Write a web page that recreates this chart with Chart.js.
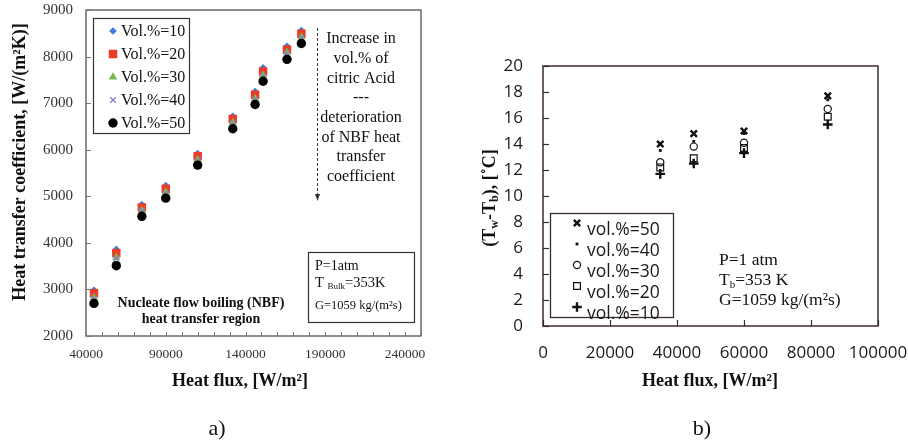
<!DOCTYPE html>
<html><head><meta charset="utf-8">
<script src="https://cdn.jsdelivr.net/npm/chart.js@4.4.1/dist/chart.umd.min.js"></script>
<style>
html,body{margin:0;padding:0;background:#fff;width:908px;height:444px;overflow:hidden}
#wa{position:absolute;left:0;top:0;width:454px;height:444px}
#wb{position:absolute;left:454px;top:0;width:454px;height:444px}
</style>
</head><body>
<div id="wa"><canvas id="ca" width="454" height="444"></canvas></div>
<div id="wb"><canvas id="cb" width="454" height="444"></canvas></div>
<script>
// ---------- DATA: chart a) ----------
const fluxA = [45000, 59000, 75000, 90000, 110000, 132000, 146000, 151000, 166000, 175000];
const hVol10 = [2980, 3860, 4820, 5230, 5920, 6720, 7250, 7760, 8220, 8560];
const hVol20 = [2920, 3780, 4760, 5160, 5860, 6660, 7180, 7680, 8150, 8490];
const hVol30 = [2830, 3690, 4700, 5090, 5790, 6590, 7100, 7600, 8090, 8420];
const hVol40 = [2800, 3660, 4680, 5060, 5760, 6560, 7070, 7570, 8060, 8390];
const hVol50 = [2700, 3510, 4570, 4960, 5670, 6450, 6970, 7470, 7940, 8280];
const labelsA = ['Vol.%=10', 'Vol.%=20', 'Vol.%=30', 'Vol.%=40', 'Vol.%=50'];
const xTicksA = [40000, 90000, 140000, 190000, 240000];

// ---------- DATA: chart b) ----------
const fluxB = [35000, 45000, 60000, 85000];
const dtVol50 = [14.0, 14.8, 15.0, 17.7];
const dtVol40 = [13.5, 14.2, 14.8, 17.4];
const dtVol30 = [12.6, 13.8, 14.1, 16.7];
const dtVol20 = [12.2, 12.9, 13.7, 16.1];
const dtVol10 = [11.7, 12.5, 13.3, 15.5];
const labelsB = ['vol.%=50', 'vol.%=40', 'vol.%=30', 'vol.%=20', 'vol.%=10'];

const SERIF = '"Liberation Serif", "Times New Roman", serif';
const SANS = '"Open Sans", Lato, sans-serif';

function pts(xs, ys) { return xs.map((x, i) => ({x: x, y: ys[i]})); }

function txt(ctx, s, x, y, font, align, color) {
  ctx.save();
  ctx.font = font; ctx.textAlign = align || 'left'; ctx.textBaseline = 'middle';
  ctx.fillStyle = color || '#000';
  ctx.fillText(s, x, y);
  ctx.restore();
}
// parts: [[text, isSub], ...]
function rich(ctx, parts, x, y, size, weight, family, align, color, rot) {
  ctx.save();
  ctx.translate(x, y);
  if (rot) ctx.rotate(rot);
  ctx.fillStyle = color || '#000';
  ctx.textBaseline = 'middle';
  ctx.textAlign = 'left';
  const fN = weight + ' ' + size + 'px ' + family;
  const fS = weight + ' ' + Math.round(size * 0.65) + 'px ' + family;
  let w = 0;
  parts.forEach(p => { ctx.font = p[1] ? fS : fN; w += ctx.measureText(p[0]).width; });
  let cx = align === 'center' ? -w / 2 : (align === 'right' ? -w : 0);
  parts.forEach(p => {
    ctx.font = p[1] ? fS : fN;
    ctx.fillText(p[0], cx, p[1] ? size * 0.28 : 0);
    cx += ctx.measureText(p[0]).width;
  });
  ctx.restore();
}
function line(ctx, x1, y1, x2, y2) { ctx.beginPath(); ctx.moveTo(x1, y1); ctx.lineTo(x2, y2); ctx.stroke(); }
function marker(ctx, ds, x, y) {
  ctx.save();
  ctx.fillStyle = ds.backgroundColor; ctx.strokeStyle = ds.borderColor; ctx.lineWidth = ds.borderWidth;
  Chart.helpers.drawPoint(ctx, {pointStyle: ds.pointStyle, radius: ds.pointRadius, rotation: 0, borderWidth: ds.borderWidth}, x, y);
  ctx.restore();
}

// ---------- Chart a) ----------
const dsA = [
  {label: labelsA[4], data: pts(fluxA, hVol50), pointStyle: 'circle', pointRadius: 4.7, backgroundColor: '#000', borderColor: '#000', borderWidth: 0},
  {label: labelsA[3], data: pts(fluxA, hVol40), pointStyle: 'crossRot', pointRadius: 4, backgroundColor: '#8f7bd0', borderColor: '#8f7bd0', borderWidth: 1.4},
  {label: labelsA[2], data: pts(fluxA, hVol30), pointStyle: 'triangle', pointRadius: 4.8, backgroundColor: '#7ab648', borderColor: '#7ab648', borderWidth: 0},
  {label: labelsA[1], data: pts(fluxA, hVol20), pointStyle: 'rect', pointRadius: 6, backgroundColor: '#ee3b2a', borderColor: '#ee3b2a', borderWidth: 0},
  {label: labelsA[0], data: pts(fluxA, hVol10), pointStyle: 'rectRot', pointRadius: 3.8, backgroundColor: '#3b7dd8', borderColor: '#3b7dd8', borderWidth: 0}
];

const decoA = {
  id: 'decoA',
  afterDraw(chart) {
    const {ctx, chartArea: a, scales: {x, y}} = chart;
    ctx.save();
    ctx.strokeStyle = '#444'; ctx.lineWidth = 1.2;
    ctx.strokeRect(a.left, a.top, a.right - a.left, a.bottom - a.top);
    ctx.strokeStyle = '#777'; ctx.lineWidth = 1;
    x.ticks.forEach(t => { const px = Math.round(x.getPixelForValue(t.value)) + 0.5; line(ctx, px, a.bottom, px, a.bottom - 4); });
    y.ticks.forEach(t => { const py = Math.round(y.getPixelForValue(t.value)) + 0.5; line(ctx, a.left, py, a.left + 5, py); });
    // legend
    ctx.strokeStyle = '#333'; ctx.lineWidth = 1.2;
    ctx.strokeRect(93.5, 18.5, 96, 115);
    const order = [4, 3, 2, 1, 0];
    order.forEach((di, i) => {
      const ds = chart.data.datasets[di];
      const yy = 31 + i * 23;
      marker(ctx, ds, 113, yy);
      txt(ctx, ds.label, 121, yy + 1, '16px ' + SERIF, 'left', '#111');
    });
    // annotation text
    const note = ['Increase in', 'vol.% of', 'citric Acid', '---', 'deterioration', 'of NBF heat', 'transfer', 'coefficient'];
    note.forEach((s, i) => txt(ctx, s, 361, 39 + i * 19.7, '16px ' + SERIF, 'center', '#111'));
    // dashed arrow
    ctx.strokeStyle = '#333'; ctx.lineWidth = 1; ctx.setLineDash([3, 2]);
    line(ctx, 317.5, 28, 317.5, 195);
    ctx.setLineDash([]);
    ctx.fillStyle = '#333';
    ctx.beginPath(); ctx.moveTo(317.5, 201); ctx.lineTo(315, 194); ctx.lineTo(320, 194); ctx.closePath(); ctx.fill();
    // conditions box
    ctx.strokeStyle = '#333'; ctx.lineWidth = 1.2;
    ctx.strokeRect(308.5, 252.5, 106, 70);
    txt(ctx, 'P=1atm', 315, 266, '14px ' + SERIF, 'left', '#111');
    rich(ctx, [['T ', false], ['Bulk', true], ['=353K', false]], 315, 283, 14.5, 'normal', SERIF, 'left', '#111');
    txt(ctx, 'G=1059 kg/(m\u00B2s)', 315, 306, '12.5px ' + SERIF, 'left', '#111');
    // region text
    txt(ctx, 'Nucleate flow boiling (NBF)', 201, 303, 'bold 14px ' + SERIF, 'center', '#111');
    txt(ctx, 'heat transfer region', 201, 319, 'bold 14px ' + SERIF, 'center', '#111');
    // axis titles
    txt(ctx, 'Heat flux, [W/m\u00B2]', 240, 381, 'bold 18px ' + SERIF, 'center', '#111');
    rich(ctx, [['Heat transfer coefficient, [W/(m\u00B2K)]', false]], 20, 162, 18, 'bold', SERIF, 'center', '#111', -Math.PI / 2);
    txt(ctx, 'a)', 217, 429, '22px ' + SERIF, 'center', '#111');
    ctx.restore();
  }
};

new Chart(document.getElementById('ca'), {
  type: 'scatter',
  data: {datasets: dsA},
  options: {
    responsive: false, animation: false, devicePixelRatio: 1,
    layout: {padding: {left: 0, right: 33, top: 10, bottom: 0}},
    plugins: {legend: {display: false}, tooltip: {enabled: false}},
    scales: {
      x: {
        type: 'linear', min: 40000, max: 250000,
        grid: {display: false, drawTicks: false}, border: {display: false},
        ticks: {stepSize: 10000, autoSkip: false, maxRotation: 0, padding: 10, color: '#333',
          font: {family: SERIF, size: 13.5},
          callback: v => (xTicksA.includes(v) ? String(v) : '')},
        afterFit: s => { s.height = 108; s.paddingLeft = 0; s.paddingRight = 0; }
      },
      y: {
        type: 'linear', min: 2000, max: 9000,
        grid: {display: false, drawTicks: false}, border: {display: false},
        ticks: {stepSize: 1000, padding: 13, color: '#333', font: {family: SERIF, size: 15}, callback: v => String(v)},
        afterFit: s => { s.width = 86; s.paddingTop = 0; s.paddingBottom = 0; }
      }
    }
  },
  plugins: [decoA]
});

// ---------- Chart b) ----------
const dsB = [
  {label: labelsB[0], data: pts(fluxB, dtVol50), pointStyle: 'crossRot', pointRadius: 4.5, backgroundColor: '#111', borderColor: '#111', borderWidth: 2.4},
  {label: labelsB[1], data: pts(fluxB, dtVol40), pointStyle: 'rect', pointRadius: 2, backgroundColor: '#111', borderColor: '#111', borderWidth: 0},
  {label: labelsB[2], data: pts(fluxB, dtVol30), pointStyle: 'circle', pointRadius: 3.6, backgroundColor: 'rgba(0,0,0,0)', borderColor: '#111', borderWidth: 1.2},
  {label: labelsB[3], data: pts(fluxB, dtVol20), pointStyle: 'rect', pointRadius: 4.8, backgroundColor: 'rgba(0,0,0,0)', borderColor: '#111', borderWidth: 1.2},
  {label: labelsB[4], data: pts(fluxB, dtVol10), pointStyle: 'cross', pointRadius: 4.8, backgroundColor: '#111', borderColor: '#111', borderWidth: 2.4}
];

const decoB = {
  id: 'decoB',
  afterDraw(chart) {
    const {ctx, chartArea: a, scales: {x, y}} = chart;
    ctx.save();
    ctx.strokeStyle = '#3d2a2e'; ctx.lineWidth = 1.5;
    ctx.strokeRect(a.left, a.top, a.right - a.left, a.bottom - a.top);
    ctx.lineWidth = 1.2;
    x.ticks.forEach(t => { const px = Math.round(x.getPixelForValue(t.value)) + 0.5; line(ctx, px, a.bottom, px, a.bottom - 6); });
    y.ticks.forEach(t => { const py = Math.round(y.getPixelForValue(t.value)) + 0.5; line(ctx, a.left, py, a.left + 6, py); });
    // legend
    ctx.strokeStyle = '#3d2a2e'; ctx.lineWidth = 1.3;
    ctx.fillStyle = '#fff';
    ctx.fillRect(550 - 454, 213, 123, 104);
    ctx.strokeRect(550.5 - 454, 213.5, 123, 104);
    chart.data.datasets.forEach((ds, i) => {
      const yy = 230 + i * 21;
      marker(ctx, ds, 577 - 454, yy - 7);
      txt(ctx, ds.label, 587 - 454, yy, '17.5px ' + SANS, 'left', '#1a1a1a');
    });
    // conditions
    txt(ctx, 'P=1 atm', 719 - 454, 260, '17.5px ' + SERIF, 'left', '#111');
    rich(ctx, [['T', false], ['b', true], ['=353 K', false]], 719 - 454, 280, 17.5, 'normal', SERIF, 'left', '#111');
    txt(ctx, 'G=1059 kg/(m\u00B2s)', 719 - 454, 300, '17.5px ' + SERIF, 'left', '#111');
    // titles
    txt(ctx, 'Heat flux, [W/m\u00B2]', 710 - 454, 381, 'bold 18px ' + SERIF, 'center', '#111');
    rich(ctx, [['(T', false], ['w', true], ['-T', false], ['b', true], ['), [\u02DAC]', false]], 490 - 454, 198, 18, 'bold', SERIF, 'center', '#111', -Math.PI / 2);
    txt(ctx, 'b)', 702 - 454, 429, '22px ' + SERIF, 'center', '#111');
    ctx.restore();
  }
};

new Chart(document.getElementById('cb'), {
  type: 'scatter',
  data: {datasets: dsB},
  options: {
    responsive: false, animation: false, devicePixelRatio: 1,
    layout: {padding: {left: 0, right: 30, top: 66, bottom: 0}},
    plugins: {legend: {display: false}, tooltip: {enabled: false}},
    scales: {
      x: {
        type: 'linear', min: 0, max: 100000,
        grid: {display: false, drawTicks: false}, border: {display: false},
        ticks: {stepSize: 20000, autoSkip: false, maxRotation: 0, padding: 17, color: '#1a1a1a',
          font: {family: SANS, size: 17}, callback: v => String(v)},
        afterFit: s => { s.height = 118; s.paddingLeft = 0; s.paddingRight = 0; }
      },
      y: {
        type: 'linear', min: 0, max: 20,
        grid: {display: false, drawTicks: false}, border: {display: false},
        ticks: {stepSize: 2, padding: 20, color: '#1a1a1a', font: {family: SANS, size: 17}, callback: v => String(v)},
        afterFit: s => { s.width = 89; s.paddingTop = 0; s.paddingBottom = 0; }
      }
    }
  },
  plugins: [decoB]
});
</script>
</body></html>
